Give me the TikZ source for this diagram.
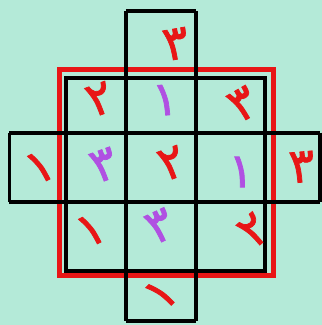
\documentclass[tikz,border=0pt]{standalone}
\usepackage{fontspec}
\newfontfamily\arabicfont[Script=Arabic,FakeBold=1.5]{DejaVu Sans}
\definecolor{bgmint}{RGB}{180,234,216}
\definecolor{dred}{RGB}{232,22,22}
\definecolor{dpurple}{RGB}{176,80,226}
\begin{document}
\begin{tikzpicture}[x=1pt,y=-1pt,
  gridline/.style={draw=black,line width=4pt},
  redframe/.style={draw=dred,line width=5pt},
  dig/.style={font=\arabicfont\fontsize{48}{48}\selectfont,inner sep=0pt,anchor=center},
  rd/.style={dig,text=dred},
  pd/.style={dig,text=dpurple}]
\fill[bgmint] (0,0) rectangle (322,325);
\useasboundingbox (0,0) rectangle (322,325);
% red frame
\draw[redframe] (59.5,69.5) rectangle (273.5,275.5);
% central grid
\draw[gridline] (66.5,78) rectangle (265.5,270.5);
\draw[gridline] (126,11) -- (126,321);
\draw[gridline] (196.5,11) -- (196.5,321);
\draw[gridline] (126,11) -- (196.5,11);
\draw[gridline] (126,321) -- (196.5,321);
\draw[gridline] (9.5,132.5) -- (320,132.5);
\draw[gridline] (9.5,201.5) -- (320,201.5);
\draw[gridline] (9.5,132.5) -- (9.5,201.5);
\draw[gridline] (320,132.5) -- (320,201.5);
% digits
\node[rd,rotate=10]  (t)   at (176,44)  {٣};
\node[rd,rotate=20]  (a11) at (100,99)  {٢};
\node[pd,rotate=5]   (a12) at (165,100) {١};
\node[rd,rotate=30]  (a13) at (243,104) {٣};
\node[rd,rotate=27]  (l)   at (40,167)  {١};
\node[pd,rotate=20]  (a21) at (104,165) {٣};
\node[rd,rotate=20]  (a22) at (172,163) {٢};
\node[pd,rotate=0]   (a23) at (241,172) {١};
\node[rd,rotate=5]   (r)   at (302,167) {٣};
\node[rd,rotate=27]  (a31) at (91,230)  {١};
\node[pd,rotate=25]  (a32) at (160,226) {٣};
\node[rd,rotate=40]  (a33) at (254,230) {٢};
\node[rd,rotate=45]  (b)   at (161,294) {١};
\end{tikzpicture}
\end{document}
